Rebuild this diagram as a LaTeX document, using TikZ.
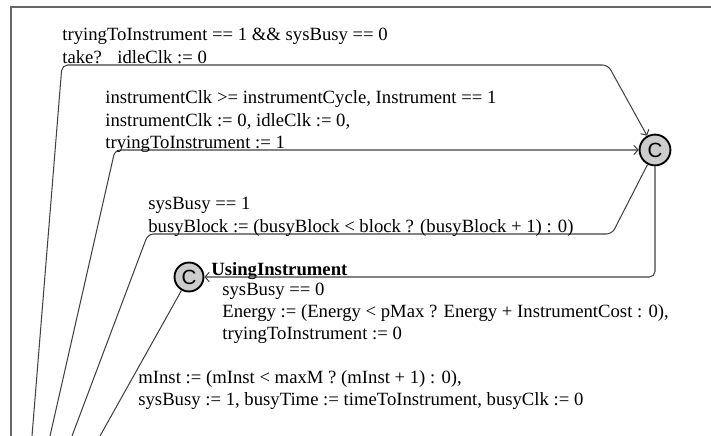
\documentclass[tikz,border=0pt]{standalone}
\usepackage{fontspec}
\setmainfont{Liberation Serif}
\setsansfont{Liberation Sans}
\usepackage{tikz}
\usetikzlibrary{arrows.meta}
\tikzset{
    loc/.style={circle,draw=black,line width=1pt,fill=gray!40,minimum size=16.5pt,inner sep=0pt,
        font=\sffamily\fontsize{11}{11}\selectfont},
    edge/.style={draw=black!75,line width=0.55pt,rounded corners=3pt},
    arr/.style={edge,-{Straight Barb[length=2.2pt,width=5pt]}},
    lbl/.style={anchor=base west,inner sep=0pt,align=left,font=\fontsize{10}{11.77}\selectfont},
    frame/.style={draw=black!60,line width=0.8pt}
}
\begin{document}
\begin{tikzpicture}[x=0.535pt,y=-0.535pt]
    \useasboundingbox (0,0) rectangle (711,436);
    \draw[frame] (11,436) -- (11,7) -- (711,7);

    % locations
    \node[loc] (busy) at (655,150) {C};
    \node[loc,minimum size=15.5pt] (using) at (189,277) {C};
    \node[lbl,font=\bfseries\fontsize{10}{11.77}\selectfont] (usingname) at (211,275) {UsingInstrument};

    % loose ends below the frame
    \coordinate (take) at (32,436);
    \coordinate (retry) at (50,436);
    \coordinate (block) at (72,436);
    \coordinate (start) at (100,436);

    % edges
    \draw[arr] (take) -- (62,65) -- (608,65) -- (busy);
    \draw[arr] (retry) -- (115,150) -- (busy);
    \draw[edge] (busy) -- (612,234) -- (148,234) -- (block);
    \draw[arr] (busy.south) -- (655,277) -- (using);
    \draw[edge] (using) -- (start);

    % labels (multi-line ones sit on their last line)
    \node[lbl] (g1) at (62,41) {tryingToInstrument == 1 \&\& sysBusy == 0};
    \node[lbl] (s1) at (62,63) {take?};
    \node[lbl] (u1) at (117,63) {idleClk := 0};
    \node[lbl] (g2) at (105,104) {instrumentClk >= instrumentCycle, Instrument == 1};
    \node[lbl] (u2) at (105,148) {instrumentClk := 0, idleClk := 0,\\ tryingToInstrument := 1};
    \node[lbl] (g3) at (148,210) {sysBusy == 1};
    \node[lbl] (u3) at (148,232) {busyBlock := (busyBlock < block ? (busyBlock + 1) : 0)};
    \node[lbl] (g4) at (222,295) {sysBusy == 0};
    \node[lbl] (u4) at (222,339) {Energy := (Energy < pMax ? Energy + InstrumentCost : 0),\\ tryingToInstrument := 0};
    \node[lbl] (u5) at (138,405) {mInst := (mInst < maxM ? (mInst + 1) : 0),\\ sysBusy := 1, busyTime := timeToInstrument, busyClk := 0};
\end{tikzpicture}
\end{document}
